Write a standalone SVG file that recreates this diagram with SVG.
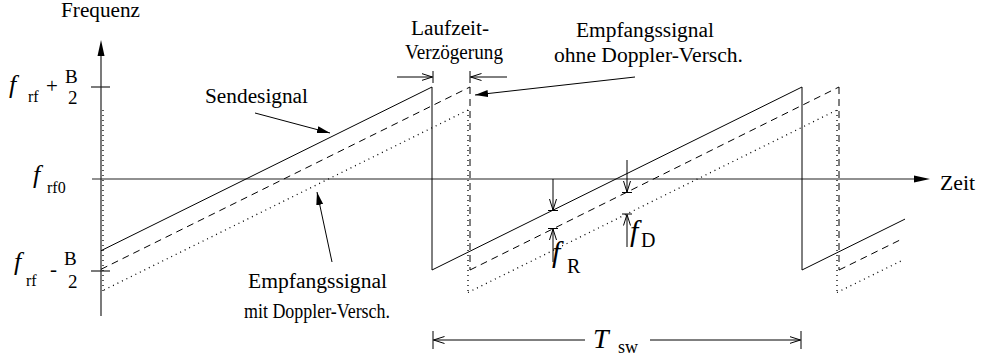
<svg xmlns="http://www.w3.org/2000/svg" width="986" height="362" viewBox="0 0 986 362">
<defs>
<style>
text{font-family:"Liberation Serif","Times New Roman",serif;fill:#000}
.t{font-size:20px}
.i{font-style:italic}
.ln{fill:none;stroke:#000;stroke-width:1}
.ax{fill:none;stroke:#222;stroke-width:1.2}
.dash{fill:none;stroke:#000;stroke-width:1;stroke-dasharray:7 5}
.dot{fill:none;stroke:#000;stroke-width:1.3;stroke-dasharray:1 4}
</style>
<marker id="fa" markerWidth="14" markerHeight="8" refX="13" refY="4" orient="auto" markerUnits="userSpaceOnUse"><path d="M0,0.5 L13,4 L0,7.5 Z" fill="#000"/></marker>
<marker id="oa" markerWidth="12" markerHeight="8" refX="11" refY="4" orient="auto" markerUnits="userSpaceOnUse"><path d="M0,0.5 L11,4 L0,7.5" fill="none" stroke="#000" stroke-width="1"/></marker>
</defs>
<rect width="986" height="362" fill="#fff"/>

<g id="axes">
<line class="ax" x1="101" y1="316" x2="101" y2="50"/>
<polygon points="101,40 97.5,56 104.5,56" fill="#000"/>
<line class="ax" x1="92" y1="179" x2="918" y2="179"/>
<polygon points="930,179 914,175.5 914,182.5" fill="#000"/>
<line class="ax" x1="91" y1="87" x2="110" y2="87"/>
<line class="ax" x1="91" y1="271" x2="110" y2="271"/>
<text class="t" x="61" y="17" textLength="79" lengthAdjust="spacingAndGlyphs">Frequenz</text>
<text class="t" x="940" y="190" textLength="35" lengthAdjust="spacingAndGlyphs">Zeit</text>
</g>

<g id="axis-labels">
<text class="i" x="9" y="93" font-size="26">f</text>
<text x="28" y="102" font-size="16">rf</text>
<text x="46" y="93" font-size="21">+</text>
<text x="65" y="83" font-size="19">B</text>
<text x="68" y="104" font-size="19">2</text>

<text class="i" x="33" y="183" font-size="26">f</text>
<text x="47" y="193" font-size="16">rf0</text>

<text class="i" x="14" y="270" font-size="26">f</text>
<text x="26" y="286" font-size="16">rf</text>
<text x="50" y="276" font-size="21">-</text>
<text x="64" y="265" font-size="19">B</text>
<text x="68" y="288" font-size="19">2</text>
</g>

<g id="sendesignal">
<polyline class="ln" points="101,250.7 432,87 432,270 802,87 802,270 905,219.1"/>
</g>

<g id="empfang-ohne-doppler">
<polyline class="dash" points="101,269.3 470,87"/>
<line class="dash" x1="470" y1="87" x2="470" y2="270"/>
<polyline class="dash" points="470,270 839,87"/>
<line class="dash" x1="839" y1="87" x2="839" y2="270"/>
<polyline class="dash" points="839,270 900,240"/>
</g>

<g id="empfang-mit-doppler">
<line class="dot" x1="103" y1="110" x2="103" y2="292"/>
<polyline class="dot" points="104,290 468,110"/>
<line class="dot" x1="468" y1="110" x2="468" y2="292.5"/>
<polyline class="dot" points="468,292.5 837,110"/>
<line class="dot" x1="837" y1="110" x2="837" y2="292.5"/>
<polyline class="dot" points="837,292.5 902,260.5"/>
</g>

<g id="connectors">
<line class="ln" x1="255" y1="113" x2="330" y2="133" marker-end="url(#fa)"/>
<line class="ln" x1="332" y1="262" x2="317" y2="192" marker-end="url(#fa)"/>
<line class="ln" x1="635" y1="77" x2="475" y2="95" marker-end="url(#fa)"/>

<line class="ln" x1="397" y1="77" x2="432.5" y2="77" marker-end="url(#oa)"/>
<line class="ln" x1="433" y1="71" x2="433" y2="83"/>
<line class="ln" x1="507" y1="77" x2="470.5" y2="77" marker-end="url(#oa)"/>
<line class="ln" x1="470" y1="71" x2="470" y2="83"/>

<line class="ln" x1="553" y1="179" x2="553" y2="210" marker-end="url(#oa)"/>
<line class="ln" x1="548" y1="210.5" x2="558" y2="210.5"/>
<line class="ln" x1="553" y1="262" x2="553" y2="229" marker-end="url(#oa)"/>
<line class="ln" x1="548" y1="228.5" x2="558" y2="228.5"/>

<line class="ln" x1="627" y1="160" x2="627" y2="192" marker-end="url(#oa)"/>
<line class="ln" x1="622" y1="192.5" x2="632" y2="192.5"/>
<line class="ln" x1="627" y1="247" x2="627" y2="214.5" marker-end="url(#oa)"/>
<line class="ln" x1="622" y1="214" x2="632" y2="214"/>

<line class="ln" x1="585" y1="340" x2="433.5" y2="340" marker-end="url(#oa)"/>
<line class="ln" x1="650" y1="340" x2="800.5" y2="340" marker-end="url(#oa)"/>
<line class="ln" x1="433" y1="331" x2="433" y2="349"/>
<line class="ln" x1="801" y1="331" x2="801" y2="349"/>
</g>

<g id="labels">
<text class="t" x="205" y="103" textLength="103" lengthAdjust="spacingAndGlyphs">Sendesignal</text>
<text class="t" x="411" y="35" textLength="78" lengthAdjust="spacingAndGlyphs">Laufzeit-</text>
<text class="t" x="405" y="59" textLength="98" lengthAdjust="spacingAndGlyphs">Verzögerung</text>
<text class="t" x="576" y="37" textLength="138" lengthAdjust="spacingAndGlyphs">Empfangssignal</text>
<text class="t" x="554" y="62" textLength="189" lengthAdjust="spacingAndGlyphs">ohne Doppler-Versch.</text>
<text class="t" x="248" y="288" textLength="139" lengthAdjust="spacingAndGlyphs">Empfangssignal</text>
<text class="t" x="244" y="318" textLength="146" lengthAdjust="spacingAndGlyphs">mit Doppler-Versch.</text>

<text class="i" x="552" y="262" font-size="30">f</text>
<text x="567" y="273" font-size="20">R</text>
<text class="i" x="630" y="241" font-size="30">f</text>
<text x="641" y="247" font-size="20">D</text>

<text class="i" x="593" y="348" font-size="28">T</text>
<text x="618" y="353" font-size="18">sw</text>
</g>
</svg>
